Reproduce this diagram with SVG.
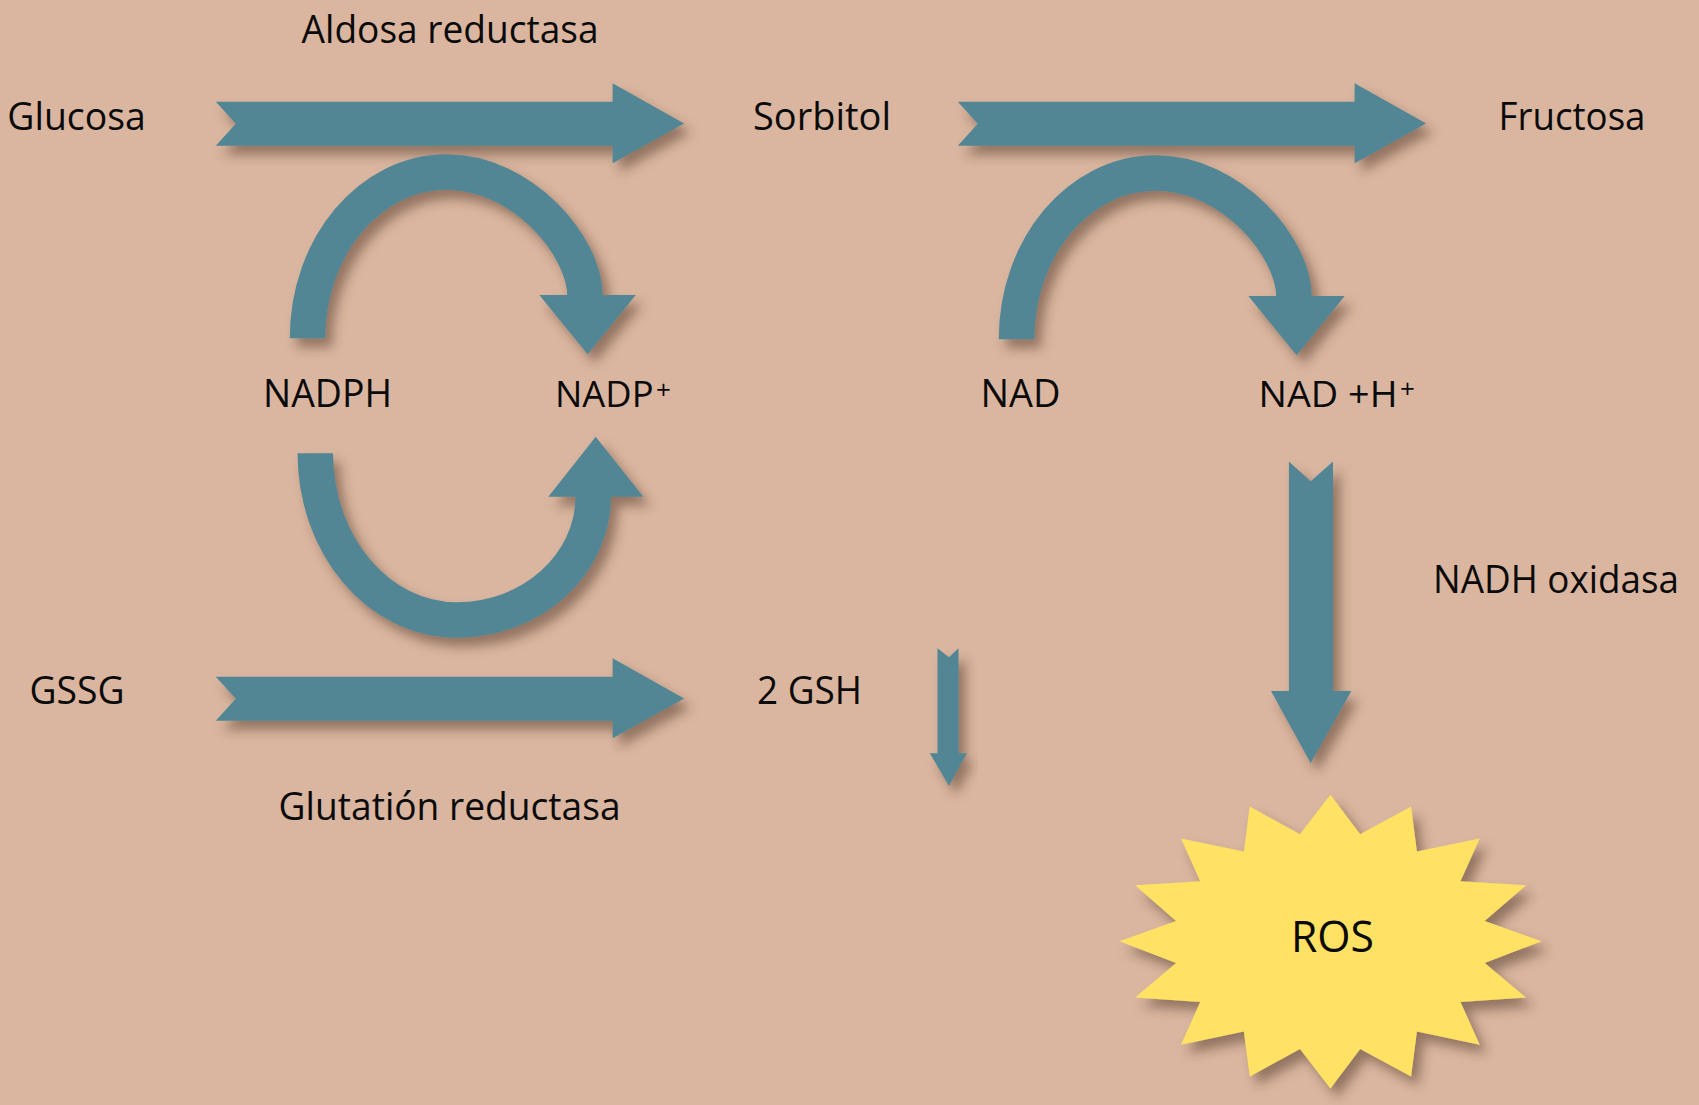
<svg xmlns="http://www.w3.org/2000/svg" width="1699" height="1105" viewBox="0 0 1699 1105">
<defs>
<filter id="sh" x="-20%" y="-20%" width="150%" height="150%">
<feDropShadow dx="7" dy="9" stdDeviation="6" flood-color="#4a2e22" flood-opacity="0.5"/>
</filter>
<style>
.a{fill:#528694}
.c{fill:none;stroke:#528694;stroke-width:35.5;stroke-linecap:butt}
.t{font-family:"Open Sans","Noto Sans",sans-serif;font-size:39px;fill:#0a0a0a}
.s{font-size:26px}
</style>
</defs>
<rect width="1699" height="1105" fill="#DAB6A0"/>
<g id="connectors">
<g id="arrow-glucosa-sorbitol" filter="url(#sh)"><polygon class="a" points="215.8,101.7 612.6,101.7 612.6,83.3 684.1,123.5 612.6,163.3 612.6,145.7 215.8,145.7 235.8,123.7"/></g>
<g id="arrow-sorbitol-fructosa" filter="url(#sh)"><polygon class="a" transform="translate(742,0)" points="215.8,101.7 612.6,101.7 612.6,83.3 684.1,123.5 612.6,163.3 612.6,145.7 215.8,145.7 235.8,123.7"/></g>
<g id="arrow-gssg-gsh" filter="url(#sh)"><polygon class="a" transform="translate(0,575)" points="215.8,101.7 612.6,101.7 612.6,83.3 684.1,123.5 612.6,163.3 612.6,145.7 215.8,145.7 235.8,123.7"/></g>
<g id="arc-nadph-nadp" filter="url(#sh)">
<path class="c" d="M307.5,338.3 C307.5,246.5 369.8,172 446.7,172 C523,172 585,246.7 585,296"/>
<polygon class="a" points="539.3,295 635.7,295 587.7,354.3"/>
</g>
<g id="arc-nad-nadh" filter="url(#sh)" transform="translate(709,1)">
<path class="c" d="M307.5,338.3 C307.5,246.5 369.8,172 446.7,172 C523,172 585,246.7 585,296"/>
<polygon class="a" points="539.3,295 635.7,295 587.7,354.3"/>
</g>
<g id="arc-nadph-lower" filter="url(#sh)">
<path class="c" d="M315.3,453.3 C315.3,545.3 378.7,620 456.7,620 C532,620 593.3,564.7 593.3,496"/>
<polygon class="a" points="548.3,496.7 643.3,496.7 595.7,436.7"/>
</g>
<g id="arrow-gsh-down" filter="url(#sh)"><polygon class="a" points="937.5,648.3 949,657.3 958.5,648.3 958.5,753.3 966.8,753.3 949,786 929.8,753.3 937.5,753.3"/></g>
<g id="arrow-nadh-ros" filter="url(#sh)"><polygon class="a" points="1288.9,461.5 1310.7,481.2 1333,461.5 1333,690.9 1351.3,690.9 1310.7,763 1271,690.9 1288.9,690.9"/></g>
</g>
<g id="node-ros">
<polygon filter="url(#sh)" fill="#FFE264" points="1330.4,794.8 1360.2,834.2 1411.1,806.6 1416.9,851.6 1479.7,838.5 1460.5,881.3 1526.1,885.3 1484.6,921.1 1541.7,941.2 1484.6,963 1526.1,997.5 1460.5,1001.9 1479.7,1044.7 1416.9,1031.6 1411.1,1076.6 1360.2,1049.1 1330.4,1088.4 1300,1049.1 1249.7,1076.6 1243.9,1031.6 1181,1044.7 1200.2,1001.9 1135.1,997.5 1176.1,963 1119.5,941.2 1176.1,921.1 1135.1,885.3 1200.2,881.3 1181,838.5 1243.9,851.6 1249.7,806.6 1300,834.2"/>
<text class="t" x="1291" y="951.7" style="font-size:44px" textLength="83" lengthAdjust="spacingAndGlyphs">ROS</text>
</g>
<g id="label-aldosa"><text class="t" x="301.6" y="42.7" textLength="297" lengthAdjust="spacingAndGlyphs">Aldosa reductasa</text></g>
<g id="node-glucosa"><text class="t" x="7.3" y="130" textLength="138.5" lengthAdjust="spacingAndGlyphs">Glucosa</text></g>
<g id="node-sorbitol"><text class="t" x="753" y="130" textLength="138" lengthAdjust="spacingAndGlyphs">Sorbitol</text></g>
<g id="node-fructosa"><text class="t" x="1498.5" y="130" textLength="147" lengthAdjust="spacingAndGlyphs">Fructosa</text></g>
<g id="node-nadph"><text class="t" x="263" y="407.3" textLength="129" lengthAdjust="spacingAndGlyphs">NADPH</text></g>
<g id="node-nadp"><text class="t" style="font-size:36px"><tspan x="555" y="407.3" textLength="98.5" lengthAdjust="spacingAndGlyphs">NADP</tspan><tspan class="s" style="font-size:26px" x="656" y="399">+</tspan></text></g>
<g id="node-nad"><text class="t" x="980.5" y="407.3" textLength="80" lengthAdjust="spacingAndGlyphs">NAD</text></g>
<g id="node-nadh"><text class="t" style="font-size:37px"><tspan x="1258.5" y="406.7" textLength="139" lengthAdjust="spacingAndGlyphs">NAD +H</tspan><tspan class="s" style="font-size:26px" x="1400" y="398">+</tspan></text></g>
<g id="label-nadh-oxidasa"><text class="t" x="1433" y="593.3" textLength="246" lengthAdjust="spacingAndGlyphs">NADH oxidasa</text></g>
<g id="node-gssg"><text class="t" x="29.5" y="704" textLength="95" lengthAdjust="spacingAndGlyphs">GSSG</text></g>
<g id="node-gsh"><text class="t" x="757" y="704" textLength="105" lengthAdjust="spacingAndGlyphs">2 GSH</text></g>
<g id="label-glutation"><text class="t" x="278.6" y="820" textLength="342" lengthAdjust="spacingAndGlyphs">Glutatión reductasa</text></g>
</svg>
